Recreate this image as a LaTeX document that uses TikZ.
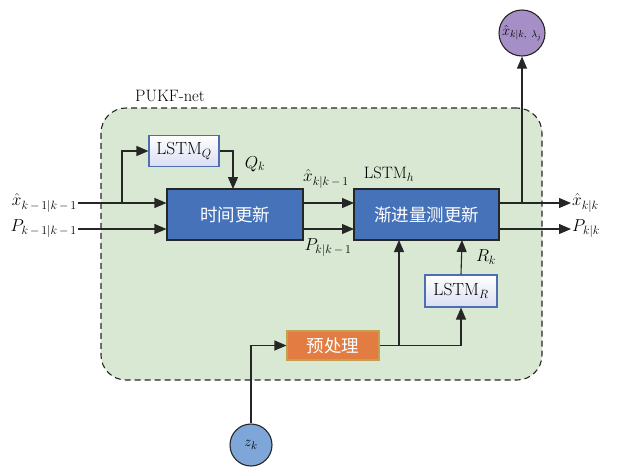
\documentclass[tikz,border=0pt]{standalone}
\usepackage{fontspec}
\newfontfamily\cjk{Noto Sans CJK SC}
\usetikzlibrary{arrows.meta}
\definecolor{bggreen}{RGB}{217,232,211}
\definecolor{mblue}{RGB}{70,114,186}
\definecolor{lblue}{RGB}{78,110,180}
\definecolor{lav}{RGB}{218,222,242}
\definecolor{morange}{RGB}{226,124,66}
\definecolor{oborder}{RGB}{196,160,80}
\definecolor{mpurple}{RGB}{166,143,198}
\definecolor{zblue}{RGB}{126,166,216}
\begin{document}
\begin{tikzpicture}[x=1pt,y=-1pt,
  mainbox/.style={draw=black!85,line width=1.1pt,fill=mblue,text=white,inner sep=0pt,font=\cjk\fontsize{17.5}{20}\selectfont},
  lstmbox/.style={draw=lblue,line width=1.1pt,top color=white,bottom color=lav,inner sep=0pt,font=\fontsize{17.5}{20}\selectfont},
  arr/.style={-{Triangle[length=12pt,width=10pt]},line width=1.1pt,draw=black!85},
  ln/.style={line width=1.1pt,draw=black!85},
  lab/.style={inner sep=1pt,font=\fontsize{16.5}{19}\selectfont},
  circ/.style={circle,draw=black!85,line width=1.1pt,inner sep=0pt}
]
\useasboundingbox (0,0) rectangle (617,469);
% container
\node[draw=black!85,dash pattern=on 6pt off 4pt,line width=1.1pt,fill=bggreen,rounded corners=25pt,minimum width=441pt,minimum height=272pt,inner sep=0pt] (net) at (321.5,244) {};
\node[font=\fontsize{16.5}{19}\selectfont] (netlab) at (170,96) {PUKF-net};
% boxes
\node[lstmbox,minimum width=70pt,minimum height=31pt] (lq) at (184,151) {LSTM$_Q$};
\node[mainbox,minimum width=136pt,minimum height=51pt] (tu) at (235,214.5) {时间更新};
\node[mainbox,minimum width=145pt,minimum height=51pt] (mu) at (426.5,214.5) {渐进量测更新};
\node[lstmbox,minimum width=72pt,minimum height=32pt] (lr) at (461,291) {LSTM$_R$};
\node[draw=oborder,line width=1.1pt,fill=morange,text=white,inner sep=0pt,minimum width=92pt,minimum height=29pt,font=\cjk\fontsize{17.5}{20}\selectfont] (pre) at (333,345.5) {预处理};
\node[circ,fill=zblue,minimum size=42pt,font=\fontsize{15}{17}\selectfont] (z) at (251,445) {$z_k$};
\node[circ,fill=mpurple,minimum size=46pt,font=\fontsize{14.5}{16}\selectfont] (xl) at (522,33) {$\hat{x}_{k|k,\ \lambda_j}$};
% input labels
\node[lab,anchor=east] (xin) at (78,203) {$\hat{x}_{k\,-\,1|k\,-\,1}$};
\node[lab,anchor=east] (pin) at (78,229) {$P_{k\,-\,1|k\,-\,1}$};
% output labels
\node[lab,anchor=west] (xout) at (571,203) {$\hat{x}_{k|k}$};
\node[lab,anchor=west] (pout) at (571,229) {$P_{k|k}$};
% other labels
\node[lab] (ql) at (255,164) {$Q_k$};
\node[lab] (xp) at (326,179) {$\hat{x}_{k|k\,-\,1}$};
\node[lab] (pp) at (328,248) {$P_{k|k\,-\,1}$};
\node[lab] (lh) at (389,174) {LSTM$_h$};
\node[lab] (rl) at (486,257) {$R_k$};
% coordinates
\coordinate (b1) at (122,203);
\coordinate (b2) at (522,203);
\coordinate (b3) at (399,345.5);
% connectors
\draw[arr] (xin.east) -- (xin.east -| tu.west);
\draw[arr] (pin.east) -- (pin.east -| tu.west);
\draw[arr] (b1) |- (lq.west);
\draw[arr] (lq.east) -| (233,189);
\draw[arr] (303,203) -- (354,203);
\draw[arr] (303,229) -- (354,229);
\draw[arr] (499,203) -- (xout.west);
\draw[arr] (499,229) -- (pout.west);
\draw[arr] (b2) -- (xl.south);
\draw[arr] (z.north) |- (pre.west);
\draw[ln] (pre.east) -- (b3);
\draw[arr] (b3) -- (399,240);
\draw[arr] (b3) -| (lr.south);
\draw[arr] (lr.north) -- (462,240);
\end{tikzpicture}
\end{document}
